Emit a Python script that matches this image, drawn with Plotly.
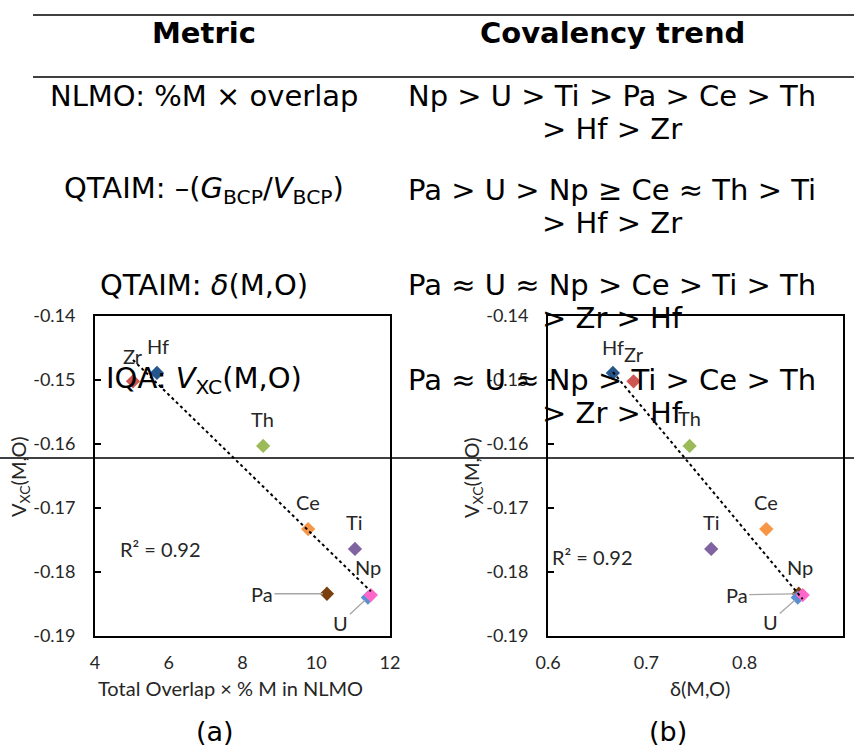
import numpy as np
import plotly.graph_objects as go

W, H = 854, 747

# ---------------- data ----------------
elements = ["Zr", "Hf", "Th", "Ce", "Ti", "Pa", "U", "Np"]
overlap_pct = [5.03, 5.68, 8.56, 9.78, 11.05, 10.29, 11.40, 11.48]
delta_mo = [0.687, 0.666, 0.744, 0.822, 0.766, 0.855, 0.854, 0.859]
vxc = [-0.1502, -0.1489, -0.1603, -0.1733, -0.1764, -0.1834, -0.1840, -0.1836]
colors = ["#CD5552", "#25558A", "#9BBB59", "#F79646", "#8064A2", "#7A3F0C", "#5B8FD0", "#FF66CC"]

y_ticks = [-0.19, -0.18, -0.17, -0.16, -0.15, -0.14]
xa_ticks = [4, 6, 8, 10, 12]
xb_ticks = [0.6, 0.7, 0.8, 0.9]

table_metrics = ["NLMO: %M × overlap",
                 "QTAIM: –(<i>G</i><sub>BCP</sub>/<i>V</i><sub>BCP</sub>)",
                 "QTAIM: <i>δ</i>(M,O)",
                 "IQA: <i>V</i><sub>XC</sub>(M,O)"]
table_trends = [("Np > U > Ti > Pa > Ce > Th", "> Hf > Zr"),
                ("Pa > U > Np ≥ Ce ≈ Th > Ti", "> Hf > Zr"),
                ("Pa ≈ U ≈ Np > Ce > Ti > Th", "> Zr > Hf"),
                ("Pa ≈ U ≈ Np > Ti > Ce > Th", "> Zr > Hf")]

def px(x):
    return x / W

def py(y):
    return 1 - y / H

TICKFONT = dict(family="Lato", size=18, color="#262626")
LABFONT = dict(family="Lato", size=20, color="#262626")
TABFONT = dict(family="DejaVu Sans", size=29, color="black")
CAPFONT = dict(family="DejaVu Sans", size=27, color="black")

fig = go.Figure()

# ---------------- scatter points ----------------
for xs, xref, yref in [(overlap_pct, "x", "y"), (delta_mo, "x2", "y2")]:
    for el, xv, yv, c in zip(elements, xs, vxc, colors):
        fig.add_trace(go.Scatter(x=[xv], y=[yv], mode="markers", xaxis=xref, yaxis=yref,
                                 marker=dict(symbol="diamond", size=11, color=c),
                                 showlegend=False, hoverinfo="skip"))
    # linear trendline
    k, b = np.polyfit(xs, vxc, 1)
    xl = np.array([min(xs), max(xs)])
    fig.add_trace(go.Scatter(x=xl, y=k * xl + b, mode="lines", xaxis=xref, yaxis=yref,
                             line=dict(color="black", width=2, dash="dot"),
                             showlegend=False, hoverinfo="skip"))

# ---------------- axes ----------------
dom_y = [py(636), py(316)]
dom_xa = [px(95), px(390)]
dom_xb = [px(548), px(843)]

def xaxis_cfg(dom, rng, ticks, anchor):
    return dict(domain=dom, range=rng, anchor=anchor, tickvals=ticks,
                ticktext=[f"{t:g}" for t in ticks], ticks="", showline=True,
                linecolor="black", linewidth=1.8, mirror=True, showgrid=False,
                zeroline=False, tickfont=TICKFONT, ticklabelstandoff=9,
                automargin=False)

def yaxis_cfg(anchor):
    return dict(domain=dom_y, range=[-0.19, -0.14], anchor=anchor, tickvals=y_ticks,
                ticktext=[f"{t:.2f}" for t in y_ticks], ticks="inside", ticklen=6,
                tickwidth=1.5, tickcolor="black", showline=True, linecolor="black",
                linewidth=1.8, mirror=True, showgrid=False, zeroline=False,
                tickfont=TICKFONT, ticklabelstandoff=14, automargin=False)

def top_ticks(base, rng, ticks, anchor):
    return dict(overlaying=base, side="top", range=rng, anchor=anchor, tickvals=ticks,
                showticklabels=False, ticks="inside", ticklen=6, tickwidth=1.5,
                tickcolor="black", showline=False, showgrid=False, zeroline=False,
                automargin=False)

fig.update_layout(
    xaxis=xaxis_cfg(dom_xa, [4, 12], xa_ticks, "y"),
    yaxis=yaxis_cfg("x"),
    xaxis2=xaxis_cfg(dom_xb, [0.6, 0.9], xb_ticks, "y2"),
    yaxis2=yaxis_cfg("x2"),
    xaxis3=top_ticks("x", [4, 12], xa_ticks, "y"),
    xaxis4=top_ticks("x2", [0.6, 0.9], xb_ticks, "y2"),
)

ann = []

def pann(xx, yy, text, font, **kw):
    d = dict(x=px(xx), y=py(yy), xref="paper", yref="paper", showarrow=False,
             xanchor="center", yanchor="middle", text=text, font=font)
    d.update(kw)
    return d

# axis titles
ann.append(pann(230, 688, "Total Overlap × % M in NLMO", LABFONT))
ann.append(pann(700, 688, "δ(M,O)", LABFONT))
for xx in [20, 473]:
    ann.append(pann(xx, 477, "V<sub>XC</sub>(M,O)", LABFONT, textangle=-90))
ann.append(pann(215, 731, "(a)", CAPFONT))
ann.append(pann(668, 731, "(b)", CAPFONT))

# R^2 labels
ann.append(pann(160, 549, "R² = 0.92", LABFONT))
ann.append(pann(592, 557, "R² = 0.92", LABFONT))

# point labels (pixel offsets)
off_a = {"Zr": (0, -25), "Hf": (1, -27), "Th": (-1, -27), "Ce": (0, -27),
         "Ti": (0, -27), "Np": (-3, -28)}
off_b = {"Zr": (0, -27), "Hf": (0, -26), "Th": (0, -28), "Ce": (0, -27),
         "Ti": (0, -27), "Np": (-3, -28)}
lead_a = {"Pa": (-65, 0), "U": (-27, 25)}
lead_b = {"Pa": (-62, 1), "U": (-27, 24)}
for xs, xref, yref, off, lead in [(overlap_pct, "x", "y", off_a, lead_a),
                                  (delta_mo, "x2", "y2", off_b, lead_b)]:
    for el, xv, yv in zip(elements, xs, vxc):
        if el in off:
            dx, dy = off[el]
            ann.append(dict(x=xv, y=yv, xref=xref, yref=yref, showarrow=False,
                            xanchor="center", yanchor="middle",
                            xshift=dx, yshift=-dy, text=el, font=LABFONT))
        else:
            dx, dy = lead[el]
            ann.append(dict(x=xv, y=yv, xref=xref, yref=yref, showarrow=True,
                            ax=dx, ay=dy, arrowhead=0, arrowwidth=1.3,
                            arrowcolor="#A6A6A6", standoff=4, text=el, font=LABFONT))

# table texts
ann.append(pann(204, 33, "<b>Metric</b>", TABFONT))
ann.append(pann(612, 33, "<b>Covalency trend</b>", TABFONT))
row_y = [96, 190, 285, 380]
for m, (t1, t2), yy in zip(table_metrics, table_trends, row_y):
    ann.append(pann(204, yy, m, TABFONT))
    ann.append(pann(612, yy, t1, TABFONT))
    ann.append(pann(612, yy + 33, t2, TABFONT))

shapes = [
    dict(type="line", xref="paper", yref="paper", x0=px(33), x1=1, y0=py(15), y1=py(15),
         line=dict(color="black", width=1.5), layer="above"),
    dict(type="line", xref="paper", yref="paper", x0=px(33), x1=1, y0=py(77), y1=py(77),
         line=dict(color="black", width=1.5), layer="above"),
    dict(type="line", xref="paper", yref="paper", x0=0, x1=1, y0=py(458), y1=py(458),
         line=dict(color="black", width=1.5), layer="above"),
]

fig.update_layout(width=W, height=H, margin=dict(l=0, r=0, t=0, b=0, autoexpand=False),
                  paper_bgcolor="white", plot_bgcolor="white",
                  annotations=ann, shapes=shapes, showlegend=False)

fig.write_html("out.html")
